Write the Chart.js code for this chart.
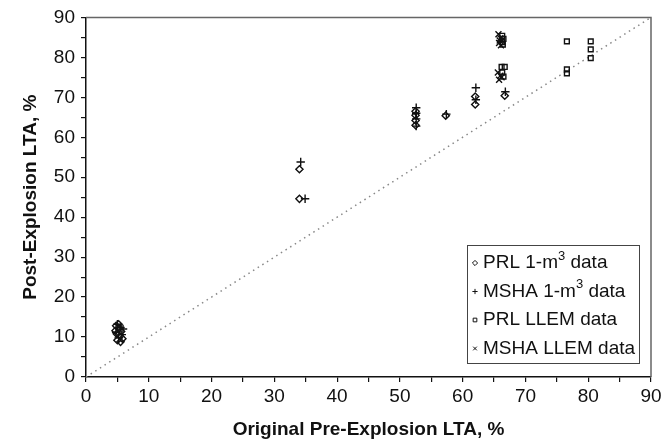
<!DOCTYPE html>
<html>
<head>
<meta charset="utf-8">
<script src="https://cdn.jsdelivr.net/npm/chart.js@4/dist/chart.umd.min.js"></script>
<style>
  html, body { margin: 0; padding: 0; background: #fff; }
  #wrap { width: 667px; height: 444px; }
</style>
</head>
<body>
<div id="wrap"><canvas id="ltaChart" width="667" height="444"></canvas></div>
<script>
// PRL 1-m3 data (diamonds)
let prl1X = [4.8, 5.3, 5.6, 4.9, 5.4, 5.8, 5.0, 5.5, 4.7, 5.2, 34.0, 34.0, 52.5, 52.5, 52.5, 52.5, 57.3, 62.0, 62.0, 66.7];
let prl1Y = [12.8, 12.2, 11.4, 10.8, 10.2, 9.6, 9.2, 8.8, 11.6, 13.2, 52.0, 44.6, 63.0, 64.2, 65.5, 66.5, 65.4, 68.2, 70.2, 70.4];
// MSHA 1-m3 data (plus)
let msha1X = [5.0, 5.5, 4.8, 5.7, 5.2, 5.9, 34.2, 34.9, 52.6, 52.6, 52.6, 52.6, 57.4, 62.1, 62.1, 66.8];
let msha1Y = [13.2, 12.4, 11.2, 10.6, 9.8, 12.0, 53.8, 44.6, 62.8, 64.6, 66.0, 67.4, 65.8, 69.4, 72.4, 71.4];
// PRL LLEM data (squares)
let prlLlemX = [66.3, 66.5, 66.3, 66.4, 66.2, 66.7, 66.3, 66.5, 76.6, 76.6, 76.6, 80.4, 80.4, 80.4];
let prlLlemY = [85.4, 84.6, 83.8, 83.2, 77.6, 77.6, 76.2, 75.2, 84.0, 77.0, 76.0, 84.0, 82.0, 79.8];
// MSHA LLEM data (x)
let mshaLlemX = [65.7, 66.0, 65.8, 66.1, 65.9, 65.6, 66.0, 65.8, 66.2];
let mshaLlemY = [85.8, 84.8, 83.6, 83.0, 84.2, 76.2, 75.4, 74.4, 75.0];
// 1:1 reference line
let diagX = [0, 90];
let diagY = [0, 90];

let seriesLabels = ["PRL 1-m³ data", "MSHA 1-m³ data", "PRL LLEM data", "MSHA LLEM data"];
let axisMin = 0;
let axisMax = 90;

let toPoints = (xs, ys) => xs.map((x, i) => ({ x: x, y: ys[i] }));

const FONT = "'Liberation Sans', Arial, sans-serif";
Chart.defaults.font.family = FONT;
Chart.defaults.font.size = 19;
Chart.defaults.color = "#111";

let markerSet = (label, data, style, radius) => ({
  type: "scatter",
  label: label,
  data: data,
  pointStyle: style,
  pointRadius: radius,
  pointHoverRadius: radius,
  pointBorderColor: "#111",
  pointBackgroundColor: "rgba(0,0,0,0)",
  pointBorderWidth: 1.4,
  showLine: false,
});

// legend text with the "³" drawn as a raised, smaller 3
let drawLabel = (ctx, text, x, y) => {
  const parts = text.split("³");
  let cx = x;
  parts.forEach((part, i) => {
    ctx.font = "19px " + FONT;
    ctx.fillText(part, cx, y);
    cx += ctx.measureText(part).width;
    if (i < parts.length - 1) {
      ctx.font = "13px " + FONT;
      ctx.fillText("3", cx, y - 7);
      cx += ctx.measureText("3").width;
    }
  });
};

// top/right frame and the boxed legend inside the plot
let frameAndLegend = {
  id: "frameAndLegend",
  afterDatasetsDraw(chart) {
    const { ctx, chartArea } = chart;
    ctx.save();
    ctx.strokeStyle = "#666";
    ctx.lineWidth = 1.5;
    ctx.beginPath();
    ctx.moveTo(chartArea.left, chartArea.top);
    ctx.lineTo(chartArea.right, chartArea.top);
    ctx.lineTo(chartArea.right, chartArea.bottom);
    ctx.stroke();

    const boxW = 172;
    const boxH = 118;
    const boxX = chartArea.right - 12 - boxW;
    const boxY = chartArea.bottom - 14 - boxH;
    ctx.fillStyle = "#fff";
    ctx.fillRect(boxX, boxY, boxW, boxH);
    ctx.strokeStyle = "#444";
    ctx.lineWidth = 1;
    ctx.strokeRect(boxX + 0.5, boxY + 0.5, boxW, boxH);

    ctx.textBaseline = "middle";
    for (let i = 0; i < 4; i++) {
      const ds = chart.data.datasets[i];
      const rowY = boxY + 18 + i * 28.5;
      ctx.strokeStyle = "#111";
      ctx.fillStyle = "#fff";
      ctx.lineWidth = 1;
      Chart.helpers.drawPoint(ctx, {
        pointStyle: ds.pointStyle,
        radius: 2.6,
        borderWidth: 1,
        rotation: 0,
      }, boxX + 8, rowY);
      ctx.fillStyle = "#111";
      drawLabel(ctx, ds.label, boxX + 16, rowY);
    }
    ctx.restore();
  },
};

new Chart("ltaChart", {
  data: {
    datasets: [
      markerSet(seriesLabels[0], toPoints(prl1X, prl1Y), "rectRot", 3.6),
      markerSet(seriesLabels[1], toPoints(msha1X, msha1Y), "cross", 4.2),
      markerSet(seriesLabels[2], toPoints(prlLlemX, prlLlemY), "rect", 3.4),
      markerSet(seriesLabels[3], toPoints(mshaLlemX, mshaLlemY), "crossRot", 4.2),
      {
        type: "line",
        label: "1:1",
        data: toPoints(diagX, diagY),
        borderColor: "#888",
        borderWidth: 1.5,
        borderDash: [1.5, 4],
        pointRadius: 0,
        fill: false,
      },
    ],
  },
  options: {
    responsive: false,
    animation: false,
    layout: { padding: { left: 0, top: 17, right: 16, bottom: 0 } },
    plugins: {
      legend: { display: false },
      tooltip: { enabled: false },
    },
    scales: {
      x: {
        type: "linear",
        min: axisMin,
        max: axisMax,
        border: { color: "#111", width: 1.5 },
        grid: { drawOnChartArea: false, color: "#111", tickLength: 5, lineWidth: 1.2 },
        ticks: {
          stepSize: 5,
          autoSkip: false,
          maxRotation: 0,
          padding: 3,
          color: "#111",
          callback: (v) => (v % 10 === 0 ? v : ""),
        },
        title: {
          display: true,
          text: "Original Pre-Explosion LTA, %",
          font: { size: 19, weight: "bold" },
          color: "#111",
          padding: { top: 0, bottom: 3 },
        },
        afterFit: (scale) => { scale.height = 67; },
      },
      y: {
        type: "linear",
        min: axisMin,
        max: axisMax,
        border: { color: "#111", width: 1.5 },
        grid: { drawOnChartArea: false, color: "#111", tickLength: 5, lineWidth: 1.2 },
        ticks: {
          stepSize: 5,
          autoSkip: false,
          padding: 6,
          color: "#111",
          callback: (v) => (v % 10 === 0 ? v : ""),
        },
        title: {
          display: true,
          text: "Post-Explosion LTA, %",
          font: { size: 19, weight: "bold" },
          color: "#111",
          padding: { top: 19, bottom: 0 },
        },
        afterFit: (scale) => { scale.width = 86; },
      },
    },
  },
  plugins: [frameAndLegend],
});
</script>
</body>
</html>
